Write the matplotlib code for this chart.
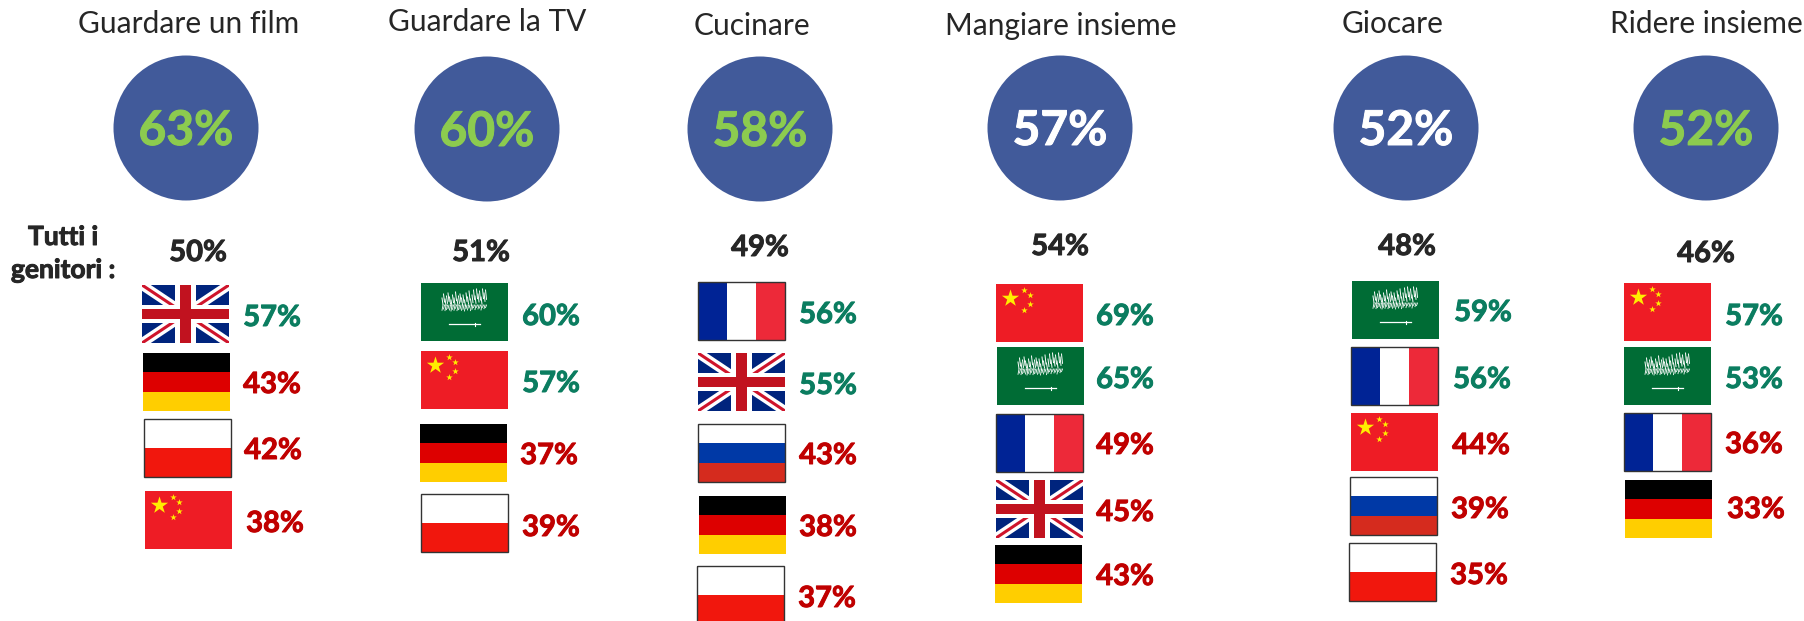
import matplotlib
matplotlib.use('Agg')
import matplotlib.pyplot as plt
import matplotlib.patheffects as pe
from matplotlib.patches import Rectangle, Circle

activities = ['Guardare un film', 'Guardare la TV', 'Cucinare', 'Mangiare insieme', 'Giocare', 'Ridere insieme']
main_pct = [63, 60, 58, 57, 52, 52]
main_highlight = [True, True, True, False, False, True]
all_parents = [50, 51, 49, 54, 48, 46]

countries_1 = ['UK', 'DE', 'PL', 'CN']
values_1 = [57, 43, 42, 38]
countries_2 = ['SA', 'CN', 'DE', 'PL']
values_2 = [60, 57, 37, 39]
countries_3 = ['FR', 'UK', 'RU', 'DE', 'PL']
values_3 = [56, 55, 43, 38, 37]
countries_4 = ['CN', 'SA', 'FR', 'UK', 'DE']
values_4 = [69, 65, 49, 45, 43]
countries_5 = ['SA', 'FR', 'CN', 'RU', 'PL']
values_5 = [59, 56, 44, 39, 35]
countries_6 = ['CN', 'SA', 'FR', 'DE']
values_6 = [57, 53, 36, 33]
countries = [countries_1, countries_2, countries_3, countries_4, countries_5, countries_6]
values = [values_1, values_2, values_3, values_4, values_5, values_6]

# layout, in pixels of the 1804x621 picture
title_xy = [(189, 24), (487, 22), (752, 26), (1061, 26), (1393, 24), (1706, 24)]
circle_xy = [(186, 128), (487, 129), (760, 129), (1060, 128), (1406, 128), (1706, 128)]
top_xy = [(198, 253), (481, 253), (760, 248), (1060, 247), (1407, 247), (1706, 254)]
flag_xy = [
    [(142, 285), (143, 353), (144, 419), (145, 491)],
    [(421, 283), (421, 351), (420, 424), (421, 494)],
    [(698, 282), (698, 353), (698, 424), (699, 496), (697, 566)],
    [(996, 284), (997, 347), (996, 414), (996, 480), (995, 545)],
    [(1352, 281), (1351, 347), (1351, 413), (1350, 477), (1349, 543)],
    [(1624, 283), (1624, 347), (1624, 413), (1625, 480)],
]
label_xy = [
    [(272, 318), (272, 385), (273, 451), (275, 524)],
    [(551, 317), (551, 384), (549, 456), (551, 528)],
    [(828, 315), (828, 386), (828, 456), (828, 528), (827, 599)],
    [(1125, 317), (1125, 380), (1125, 446), (1125, 513), (1125, 577)],
    [(1483, 313), (1482, 380), (1481, 446), (1480, 510), (1479, 576)],
    [(1754, 317), (1754, 380), (1754, 445), (1756, 510)],
]
FW = 87
FH = 58
GOOD_LIMIT = 52  # flag values above this are green

plt.rcParams['font.family'] = ['Lato', 'DejaVu Sans']
DARK = '#262626'
GREEN = '#0b7d60'
RED = '#c00000'
BLUE = '#415a9a'
LIME = '#8ccb4f'


def bold_text(ax, x, y, s, size, col):
    # a thin outline of the same colour, Lato Bold is lighter than the original
    ax.text(x, y, s, ha='center', va='center', fontsize=size, fontweight='bold', color=col,
            path_effects=[pe.withStroke(linewidth=0.7, foreground=col)])


def stripes(ax, x, y, cols):
    h = FH / len(cols)
    for i, c in enumerate(cols):
        ax.add_patch(Rectangle((x, y + i * h), FW, h, fc=c, ec='none'))


def stripes_v(ax, x, y, cols):
    w = FW / len(cols)
    for i, c in enumerate(cols):
        ax.add_patch(Rectangle((x + i * w, y), w, FH, fc=c, ec='none'))


def border(ax, x, y):
    ax.add_patch(Rectangle((x, y), FW, FH, fc='none', ec='#333333', lw=1))


def flag_uk(ax, x, y):
    box = Rectangle((x, y), FW, FH, fc='#00247d', ec='none')
    ax.add_patch(box)
    for col, lw in (('white', 7), ('#cf142b', 2.2)):
        for a, b in ((y, y + FH), (y + FH, y)):
            line, = ax.plot([x, x + FW], [a, b], color=col, lw=lw, solid_capstyle='butt', zorder=2)
            line.set_clip_path(box)
    ax.add_patch(Rectangle((x + FW * 0.38, y), FW * 0.24, FH, fc='white', ec='none', zorder=3))
    ax.add_patch(Rectangle((x, y + FH * 0.34), FW, FH * 0.32, fc='white', ec='none', zorder=3))
    ax.add_patch(Rectangle((x + FW * 0.44, y), FW * 0.12, FH, fc='#c1121f', ec='none', zorder=4))
    ax.add_patch(Rectangle((x, y + FH * 0.41), FW, FH * 0.18, fc='#c1121f', ec='none', zorder=4))


def flag_cn(ax, x, y):
    ax.add_patch(Rectangle((x, y), FW, FH, fc='#ee1c25', ec='none'))
    ax.scatter([x + 14], [y + 14], marker='*', s=170, c='#ffee00', linewidths=0, zorder=3)
    sx = [x + 28, x + 34, x + 34, x + 28]
    sy = [y + 5.5, y + 11, y + 20, y + 26]
    ax.scatter(sx, sy, marker='*', s=24, c='#ffee00', linewidths=0, zorder=3)


def flag_sa(ax, x, y):
    ax.add_patch(Rectangle((x, y), FW, FH, fc='#006c35', ec='none'))
    # the script on the flag, as a band of short white strokes
    heights = [5, 9, 4, 7, 10, 6, 3, 8, 5, 11, 4, 7, 9, 5, 8, 3, 10, 6, 12, 4, 8, 13, 7, 14, 9, 12, 6, 14, 10, 13]
    for i, hh in enumerate(heights):
        xs = x + 21 + i * 1.5
        ax.plot([xs, xs + 1], [y + 20 - hh, y + 20 - hh + 5 + hh / 3], color='white', lw=0.7)
        ax.plot([xs + 1, xs], [y + 22, y + 29 - hh / 3], color='white', lw=0.6)
    ax.plot([x + 28, x + 59], [y + 41, y + 41], color='white', lw=0.9)
    ax.plot([x + 54, x + 54], [y + 39.5, y + 42.5], color='white', lw=0.8)


def draw_flag(ax, code, x, y):
    if code == 'UK':
        flag_uk(ax, x, y)
    elif code == 'CN':
        flag_cn(ax, x, y)
    elif code == 'SA':
        flag_sa(ax, x, y)
    elif code == 'DE':
        stripes(ax, x, y, ['#000000', '#dd0000', '#ffce00'])
    elif code == 'PL':
        stripes(ax, x, y, ['#ffffff', '#f1170d'])
        border(ax, x, y)
    elif code == 'RU':
        stripes(ax, x, y, ['#ffffff', '#0039a6', '#d52b1e'])
        border(ax, x, y)
    elif code == 'FR':
        stripes_v(ax, x, y, ['#002395', '#ffffff', '#ed2939'])
        border(ax, x, y)


fig = plt.figure(figsize=(18.04, 6.21), dpi=100)
ax = fig.add_axes([0, 0, 1, 1])
ax.set_xlim(0, 1804)
ax.set_ylim(621, 0)
ax.axis('off')

for i in range(len(activities)):
    tx, ty = title_xy[i]
    ax.text(tx, ty, activities[i], ha='center', va='center', fontsize=21.5, color=DARK)
    cx, cy = circle_xy[i]
    ax.add_patch(Circle((cx, cy), 72.5, fc=BLUE, ec='none'))
    bold_text(ax, cx, cy + 3, str(main_pct[i]) + '%', 34.5, LIME if main_highlight[i] else 'white')
    bold_text(ax, top_xy[i][0], top_xy[i][1], str(all_parents[i]) + '%', 21, DARK)
    for j in range(len(countries[i])):
        fx, fy = flag_xy[i][j]
        draw_flag(ax, countries[i][j], fx, fy)
        lx, ly = label_xy[i][j]
        v = values[i][j]
        bold_text(ax, lx, ly, str(v) + '%', 21, GREEN if v > GOOD_LIMIT else RED)

bold_text(ax, 63, 237, 'Tutti i', 19, DARK)
bold_text(ax, 63, 270, 'genitori :', 19, DARK)

fig.savefig('out.png', dpi=100)
